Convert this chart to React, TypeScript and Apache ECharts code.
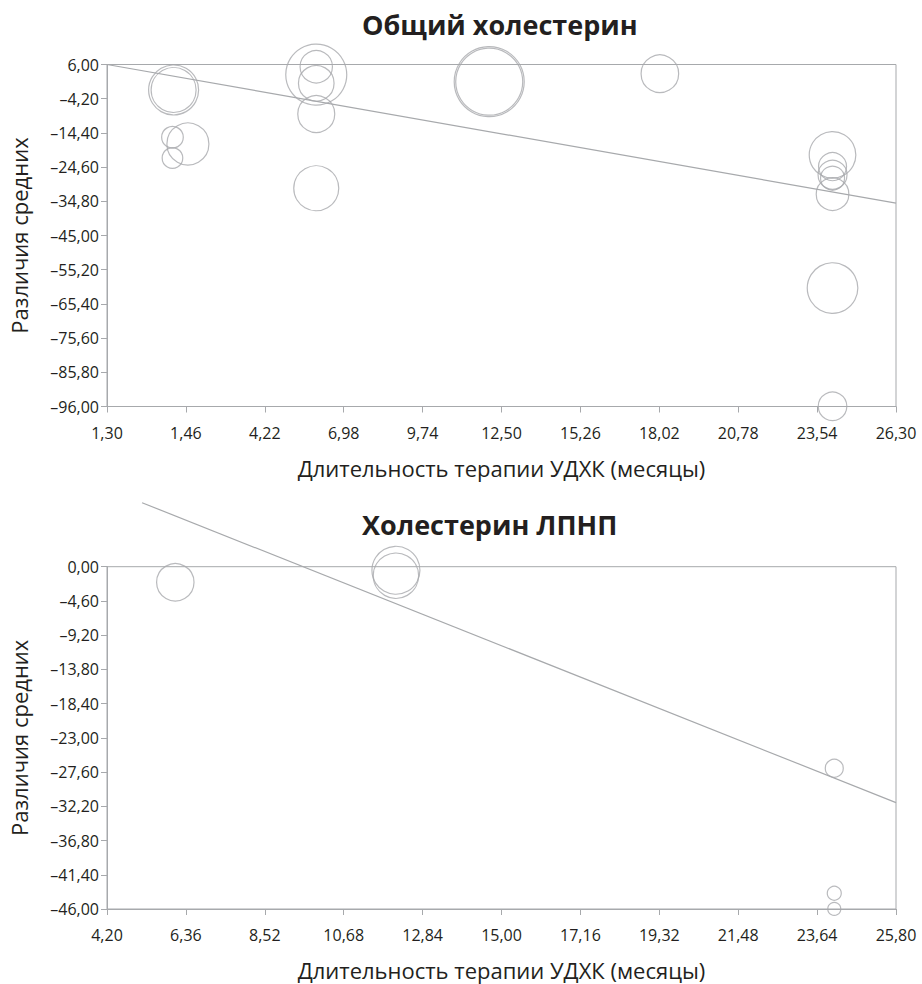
import React, { useEffect, useRef } from "react";
import * as echarts from "echarts";

// ---- Top chart: Общий холестерин ----
const topTitle = "Общий холестерин";
const topXTicks = [-1.3, 1.46, 4.22, 6.98, 9.74, 12.5, 15.26, 18.02, 20.78, 23.54, 26.3];
const topXLabels = ["1,30", "1,46", "4,22", "6,98", "9,74", "12,50", "15,26", "18,02", "20,78", "23,54", "26,30"];
const topYTicks = [6, -4.2, -14.4, -24.6, -34.8, -45, -55.2, -65.4, -75.6, -85.8, -96];
const topYLabels = ["6,00", "–4,20", "–14,40", "–24,60", "–34,80", "–45,00", "–55,20", "–65,40", "–75,60", "–85,80", "–96,00"];
const topX = [1.03, 1.03, 0.99, 0.99, 1.53, 6.02, 6.02, 6.02, 6.02, 6.02, 12.07, 12.07, 18.04, 24.08, 24.08, 24.08, 24.08, 24.08, 24.08, 24.08];
const topY = [-1.6, -1.6, -15.7, -21.9, -17.7, 2.96, 5.34, 0.4, -8.75, -30.9, 0.88, 0.88, 3.26, -20.96, -24.45, -26.9, -27.9, -32.67, -60.67, -95.94];
const topW = [625, 506, 117, 106, 441, 930, 262, 317, 342, 506, 1225, 1122, 353, 543, 196, 210, 144, 266, 640, 204];
const topTrendX = [-1.3, 26.3];
const topTrendY = [6.0, -35.35];

// ---- Bottom chart: Холестерин ЛПНП ----
const botTitle = "Холестерин ЛПНП";
const botXTicks = [4.2, 6.36, 8.52, 10.68, 12.84, 15.0, 17.16, 19.32, 21.48, 23.64, 25.8];
const botXLabels = ["4,20", "6,36", "8,52", "10,68", "12,84", "15,00", "17,16", "19,32", "21,48", "23,64", "25,80"];
const botYTicks = [0, -4.6, -9.2, -13.8, -18.4, -23, -27.6, -32.2, -36.8, -41.4, -46];
const botYLabels = ["0,00", "–4,60", "–9,20", "–13,80", "–18,40", "–23,00", "–27,60", "–32,20", "–36,80", "–41,40", "–46,00"];
const botX = [6.07, 12.11, 12.11, 24.11, 24.11, 24.11];
const botY = [-2.1, -0.48, -1.21, -27.08, -43.88, -45.99];
const botW = [350, 576, 515, 81, 49, 42];
const botTrendX = [5.16, 25.8];
const botTrendY = [8.6, -31.7];

const xName = "Длительность терапии УДХК (месяцы)";
const yName = "Различия средних";

const GRAY = "#a7a9ac";
const TEXT = "#231f20";
const FONT = "'Open Sans', 'Noto Sans', sans-serif";

function labelFor(ticks: number[], labels: string[]) {
  return (v: number) => {
    let best = 0;
    for (let i = 1; i < ticks.length; i++) {
      if (Math.abs(ticks[i] - v) < Math.abs(ticks[best] - v)) best = i;
    }
    return labels[best];
  };
}

function xAxisCfg(grid: number, ticks: number[], labels: string[]) {
  const sorted = [...ticks].sort((a, b) => a - b);
  return {
    type: "value",
    gridIndex: grid,
    min: sorted[0],
    max: sorted[sorted.length - 1],
    name: xName,
    nameLocation: "middle",
    nameGap: 50,
    nameTextStyle: { fontFamily: FONT, fontSize: 22, color: TEXT },
    axisLine: { show: true, onZero: false, lineStyle: { color: GRAY, width: 1 } },
    axisTick: { show: true, inside: false, length: 6, customValues: ticks, lineStyle: { color: GRAY } },
    axisLabel: {
      customValues: ticks,
      formatter: labelFor(ticks, labels),
      fontFamily: FONT,
      fontSize: 16,
      color: TEXT,
      margin: 18,
      showMinLabel: true,
      showMaxLabel: true,
    },
    splitLine: { show: false },
  };
}

function yAxisCfg(grid: number, ticks: number[], labels: string[]) {
  const sorted = [...ticks].sort((a, b) => a - b);
  return {
    type: "value",
    gridIndex: grid,
    min: sorted[0],
    max: sorted[sorted.length - 1],
    name: yName,
    nameLocation: "middle",
    nameGap: 77,
    nameTextStyle: { fontFamily: FONT, fontSize: 22, color: TEXT },
    axisLine: { show: true, onZero: false, lineStyle: { color: GRAY, width: 1 } },
    axisTick: { show: true, inside: false, length: 6, customValues: ticks, lineStyle: { color: GRAY } },
    axisLabel: {
      customValues: ticks,
      formatter: labelFor(ticks, labels),
      fontFamily: FONT,
      fontSize: 16,
      color: TEXT,
      margin: 8,
      showMinLabel: true,
      showMaxLabel: true,
    },
    splitLine: { show: false },
  };
}

function bubbles(idx: number, xs: number[], ys: number[], ws: number[]) {
  return {
    type: "scatter",
    xAxisIndex: idx,
    yAxisIndex: idx,
    clip: false,
    data: xs.map((x, i) => [x, ys[i], ws[i]]),
    symbol: "circle",
    symbolSize: (d: number[]) => 2 * Math.sqrt(d[2]),
    itemStyle: { color: "rgba(0,0,0,0)", borderColor: GRAY, borderWidth: 1.2 },
    emphasis: { disabled: true },
    z: 3,
  };
}

function trend(idx: number, xs: number[], ys: number[]) {
  return {
    type: "line",
    xAxisIndex: idx,
    yAxisIndex: idx,
    clip: false,
    data: xs.map((x, i) => [x, ys[i]]),
    symbol: "none",
    lineStyle: { color: GRAY, width: 1.2 },
    emphasis: { disabled: true },
    z: 2,
  };
}

export default function App() {
  const ref = useRef<HTMLDivElement>(null);
  useEffect(() => {
    if (!ref.current) return;
    const chart = echarts.init(ref.current, null, { renderer: "svg" });
    chart.setOption({
      animation: false,
      backgroundColor: "#ffffff",
      title: [
        {
          text: topTitle,
          left: 357,
          top: 6,
          textStyle: { fontFamily: FONT, fontSize: 27, fontWeight: "bold", color: TEXT },
        },
        {
          text: botTitle,
          left: 357,
          top: 506,
          textStyle: { fontFamily: FONT, fontSize: 27, fontWeight: "bold", color: TEXT },
        },
      ],
      grid: [
        { left: 105, top: 64.5, width: 791, height: 342, show: true, borderColor: GRAY, borderWidth: 1, containLabel: false },
        { left: 105, top: 566.7, width: 791, height: 342.3, show: true, borderColor: GRAY, borderWidth: 1, containLabel: false },
      ],
      xAxis: [xAxisCfg(0, topXTicks, topXLabels), xAxisCfg(1, botXTicks, botXLabels)],
      yAxis: [yAxisCfg(0, topYTicks, topYLabels), yAxisCfg(1, botYTicks, botYLabels)],
      series: [
        trend(0, topTrendX, topTrendY),
        bubbles(0, topX, topY, topW),
        trend(1, botTrendX, botTrendY),
        bubbles(1, botX, botY, botW),
      ],
    });
    return () => chart.dispose();
  }, []);
  return (
    <div
      ref={ref}
      style={{ position: "fixed", left: 0, top: 0, width: 922, height: 984, background: "#fff" }}
    />
  );
}
